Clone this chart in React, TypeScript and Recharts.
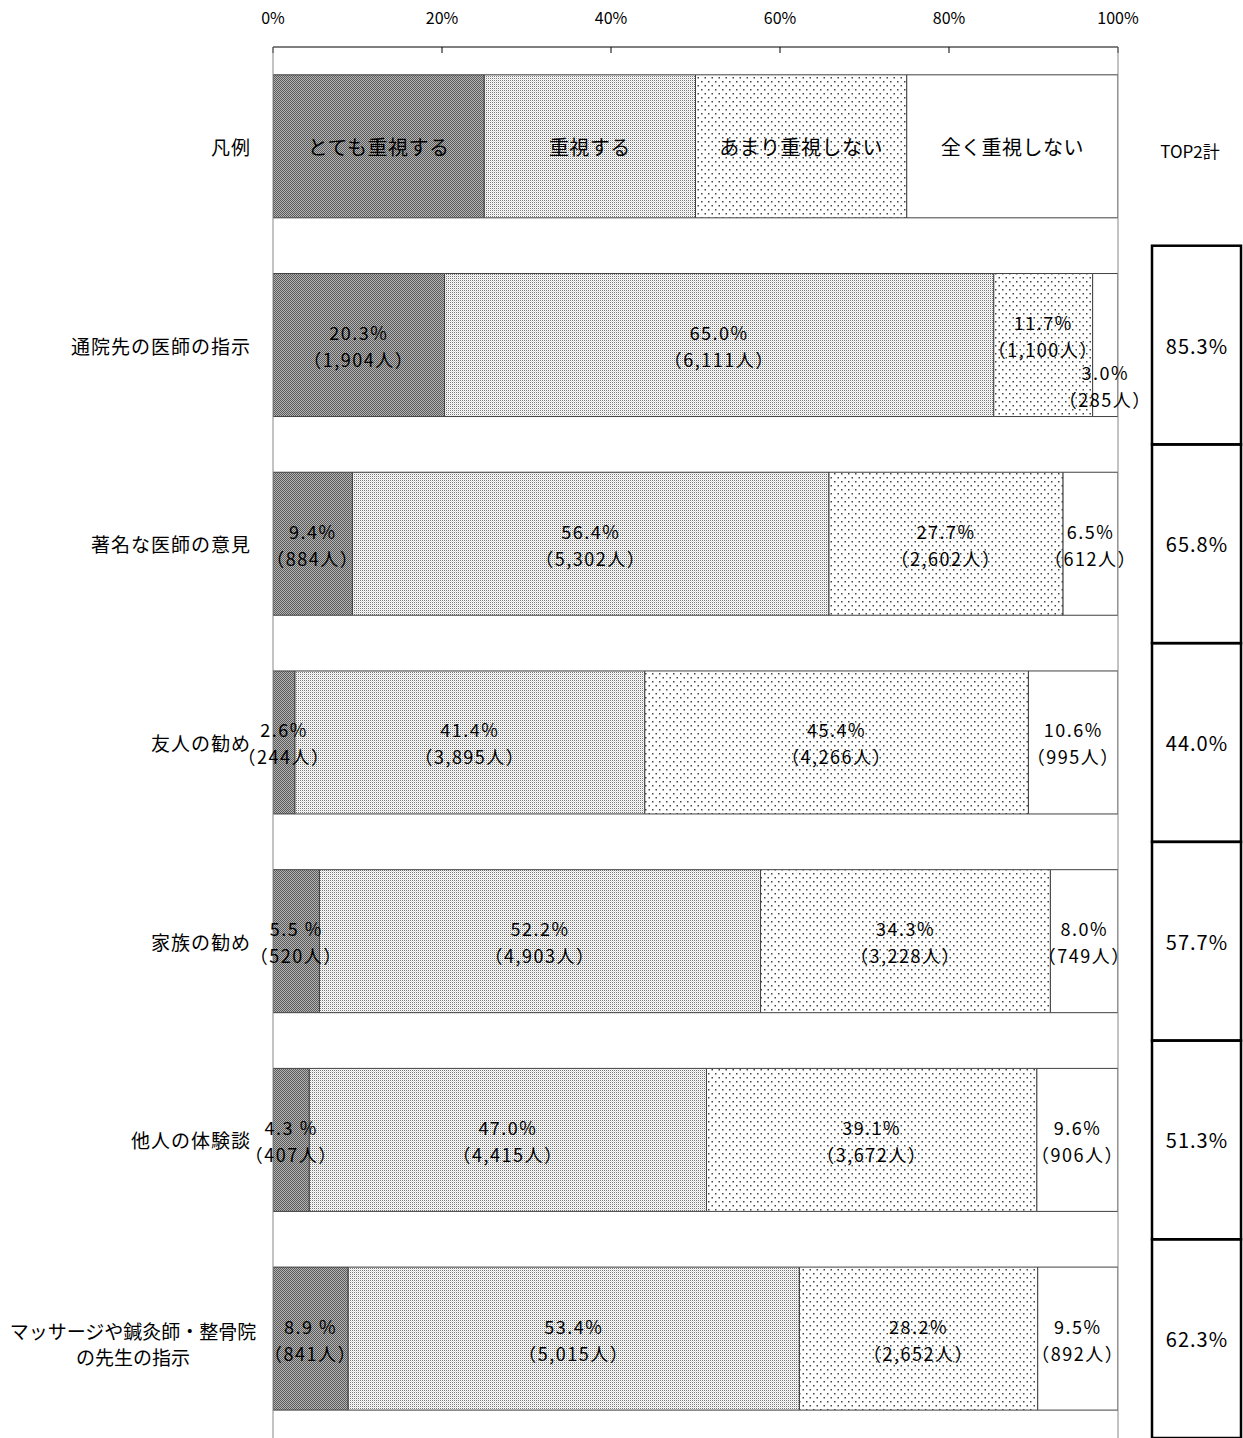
import React from 'react';
import { BarChart, Bar, XAxis, YAxis, LabelList } from 'recharts';

const categories = [
  '凡例',
  '通院先の医師の指示',
  '著名な医師の意見',
  '友人の勧め',
  '家族の勧め',
  '他人の体験談',
  'マッサージや鍼灸師・整骨院\nの先生の指示'
];
const seriesNames = ['とても重視する', '重視する', 'あまり重視しない', '全く重視しない'];

// percentages (legend row is 25/25/25/25)
const veryImportant = [25, 20.3, 9.4, 2.6, 5.5, 4.3, 8.9];
const important = [25, 65.0, 56.4, 41.4, 52.2, 47.0, 53.4];
const notVery = [25, 11.7, 27.7, 45.4, 34.3, 39.1, 28.2];
const notAtAll = [25, 3.0, 6.5, 10.6, 8.0, 9.6, 9.5];

// label texts as printed
const veryImportantText = ['', '20.3%', '9.4%', '2.6%', '5.5 %', '4.3 %', '8.9 %'];
const importantText = ['', '65.0%', '56.4%', '41.4%', '52.2%', '47.0%', '53.4%'];
const notVeryText = ['', '11.7%', '27.7%', '45.4%', '34.3%', '39.1%', '28.2%'];
const notAtAllText = ['', '3.0%', '6.5%', '10.6%', '8.0%', '9.6%', '9.5%'];

const veryImportantCount = ['', '1,904', '884', '244', '520', '407', '841'];
const importantCount = ['', '6,111', '5,302', '3,895', '4,903', '4,415', '5,015'];
const notVeryCount = ['', '1,100', '2,602', '4,266', '3,228', '3,672', '2,652'];
const notAtAllCount = ['', '285', '612', '995', '749', '906', '892'];

const top2 = ['', '85.3%', '65.8%', '44.0%', '57.7%', '51.3%', '62.3%'];

const xTicks = [0, 20, 40, 60, 80, 100];

const W = 1243;
const H = 1438;
const TOP = 47;
const FONT = '"Noto Sans CJK JP", "Noto Sans", sans-serif';
const BAND = (H - TOP) / categories.length;

const data = categories.map((name, i) => ({
  name,
  v1: veryImportant[i],
  v2: important[i],
  v3: notVery[i],
  v4: notAtAll[i]
}));

const texts = [veryImportantText, importantText, notVeryText, notAtAllText];
const counts = [veryImportantCount, importantCount, notVeryCount, notAtAllCount];
const fills = ['url(#pDark)', 'url(#pDense)', 'url(#pSparse)', '#ffffff'];

const makeLabel = (si: number) => (props: any) => {
  const { x, y, width, height, index } = props;
  const cx = Number(x) + Number(width) / 2;
  const cy = Number(y) + Number(height) / 2;
  if (index === 0) {
    return (
      <text x={cx} y={cy} textAnchor="middle" dominantBaseline="central" fontSize={20} fill="#000" fontFamily={FONT} letterSpacing={0.5}>
        {seriesNames[si]}
      </text>
    );
  }
  // when the last segment is tiny, its label drops below and the neighbour lifts a bit
  const tiny = notAtAll[index] < 5;
  const dy = tiny && si === 3 ? 40 : tiny && si === 2 ? -10 : 0;
  return (
    <g>
      <text x={cx} y={cy - 13 + dy} textAnchor="middle" dominantBaseline="central" fontSize={18} fill="#000" fontFamily={FONT} letterSpacing={1.5}>
        {texts[si][index]}
      </text>
      <text x={cx} y={cy + 14 + dy} textAnchor="middle" dominantBaseline="central" fontSize={18} fill="#000" fontFamily={FONT} letterSpacing={1.5}>
        {`（${counts[si][index]}人）`}
      </text>
    </g>
  );
};

const CategoryTick = (props: any) => {
  const { x, y, payload } = props;
  const lines = String(payload.value).split('\n');
  if (lines.length === 1) {
    return (
      <text x={x} y={y} textAnchor="end" dominantBaseline="central" fontSize={19} fill="#000" fontFamily={FONT} letterSpacing={1}>
        {lines[0]}
      </text>
    );
  }
  const cx = x - 118;
  return (
    <g>
      {lines.map((l, i) => (
        <text key={i} x={cx} y={y - 8 + i * 26} textAnchor="middle" dominantBaseline="central" fontSize={19} fill="#000" fontFamily={FONT}>
          {l}
        </text>
      ))}
    </g>
  );
};

const Top2Tick = (props: any) => {
  const { x, y, index } = props;
  const i = index ?? categories.indexOf(props.payload.value);
  if (i === 0) {
    return (
      <text x={x + 72} y={y + 4} textAnchor="middle" dominantBaseline="central" fontSize={17} fill="#000" fontFamily={FONT}>
        TOP2計
      </text>
    );
  }
  return (
    <g>
      <rect x={x + 34} y={y - BAND / 2} width={89} height={BAND} fill="none" stroke="#000" strokeWidth={2.5} />
      <text x={x + 79} y={y} textAnchor="middle" dominantBaseline="central" fontSize={20} fill="#000" fontFamily={FONT} letterSpacing={1}>
        {top2[i]}
      </text>
    </g>
  );
};

const App: React.FC = () => {
  return (
    <div style={{ position: 'absolute', left: 0, top: 0, width: W, height: H, background: '#fff' }}>
      <BarChart
        width={W}
        height={H}
        data={data}
        layout="vertical"
        margin={{ top: 0, right: 0, bottom: 0, left: 0 }}
        barCategoryGap="14%"
        style={{ fontFamily: FONT }}
      >
        <defs>
          <pattern id="pDark" width={2} height={2} patternUnits="userSpaceOnUse">
            <rect width={2} height={2} fill="#b4b4b4" />
            <rect x={0} y={0} width={1} height={1} fill="#5a5a5a" />
            <rect x={1} y={1} width={1} height={1} fill="#5a5a5a" />
          </pattern>
          <pattern id="pDense" width={2} height={2} patternUnits="userSpaceOnUse">
            <rect width={2} height={2} fill="#ffffff" />
            <rect x={0} y={0} width={1} height={1} fill="#777777" />
            <rect x={1} y={1} width={1} height={1} fill="#dcdcdc" />
          </pattern>
          <pattern id="pSparse" width={7} height={8} patternUnits="userSpaceOnUse">
            <rect width={7} height={8} fill="#ffffff" />
            <rect x={1} y={1} width={1.5} height={1.5} fill="#444444" />
            <rect x={4.5} y={5} width={1.5} height={1.5} fill="#444444" />
          </pattern>
        </defs>
        <XAxis
          type="number"
          orientation="top"
          domain={[0, 100]}
          ticks={xTicks}
          tickFormatter={(v: number) => `${v}%`}
          height={TOP}
          stroke="#000"
          tickSize={-6}
          tickMargin={29}
          tick={{ fontSize: 16, fill: '#000', fontFamily: FONT }}
          allowDataOverflow
        />
        <YAxis
          yAxisId="left"
          type="category"
          dataKey="name"
          width={273}
          axisLine={{ stroke: '#888' }}
          tickLine={false}
          tickMargin={16}
          tick={<CategoryTick />}
          interval={0}
        />
        <YAxis
          yAxisId="right"
          orientation="right"
          type="category"
          dataKey="name"
          width={125}
          axisLine={{ stroke: '#888' }}
          tickLine={false}
          tickSize={0}
          tickMargin={0}
          tick={<Top2Tick />}
          interval={0}
        />
        {['v1', 'v2', 'v3', 'v4'].map((k, si) => (
          <Bar
            key={k}
            dataKey={k}
            yAxisId="left"
            stackId="a"
            fill={fills[si]}
            stroke="#404040"
            strokeWidth={1}
            isAnimationActive={false}
          >
            <LabelList dataKey={k} content={makeLabel(si)} />
          </Bar>
        ))}
      </BarChart>
    </div>
  );
};

export default App;
